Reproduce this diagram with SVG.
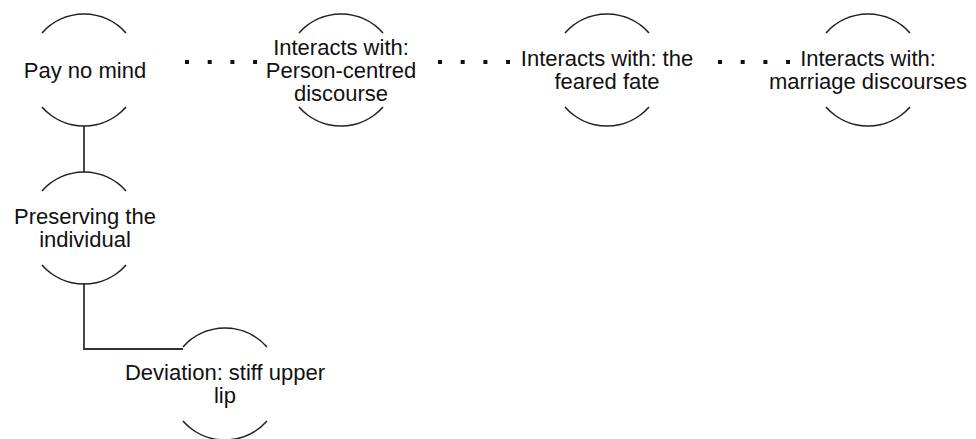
<svg xmlns="http://www.w3.org/2000/svg" width="976" height="439" viewBox="0 0 976 439">
<style>
.arc{fill:none;stroke:#222;stroke-width:1.6}
.lbl{font-family:"Liberation Sans",Arial,sans-serif;font-size:22px;fill:#111;text-anchor:middle}
.solid{fill:none;stroke:#333;stroke-width:1.8}
.dots{fill:none;stroke:#111;stroke-width:4;stroke-dasharray:4 18.7}
</style>
<rect width="976" height="439" fill="#fff"/>
<g id="connectors">
<line class="solid" x1="84" y1="126" x2="84" y2="172"/>
<polyline class="solid" points="84,283 84,349 183,349"/>
<line class="dots" x1="185" y1="62" x2="257" y2="62"/>
<line class="dots" x1="438" y1="62" x2="510" y2="62"/>
<line class="dots" x1="718" y1="62" x2="790" y2="62"/>
</g>
<g id="n1">
<path class="arc" d="M42,33 A56,56 0 0 1 126,33"/>
<path class="arc" d="M42,107 A56,56 0 0 0 126,107"/>
<text class="lbl" x="85" y="78">Pay no mind</text>
</g>
<g id="n2">
<path class="arc" d="M42,191 A56,56 0 0 1 126,191"/>
<path class="arc" d="M42,265 A56,56 0 0 0 126,265"/>
<text class="lbl" x="85" y="224">Preserving the</text>
<text class="lbl" x="85" y="247">individual</text>
</g>
<g id="n3">
<path class="arc" d="M183,347 A56,56 0 0 1 267,347"/>
<path class="arc" d="M183,421 A56,56 0 0 0 267,421"/>
<text class="lbl" x="225" y="380">Deviation: stiff upper</text>
<text class="lbl" x="225" y="403">lip</text>
</g>
<g id="n4">
<path class="arc" d="M299,33 A56,56 0 0 1 383,33"/>
<path class="arc" d="M299,107 A56,56 0 0 0 383,107"/>
<text class="lbl" x="341" y="55">Interacts with:</text>
<text class="lbl" x="341" y="78">Person-centred</text>
<text class="lbl" x="341" y="101">discourse</text>
</g>
<g id="n5">
<path class="arc" d="M565,33 A56,56 0 0 1 649,33"/>
<path class="arc" d="M565,107 A56,56 0 0 0 649,107"/>
<text class="lbl" x="607" y="66">Interacts with: the</text>
<text class="lbl" x="607" y="89">feared fate</text>
</g>
<g id="n6">
<path class="arc" d="M826,33 A56,56 0 0 1 910,33"/>
<path class="arc" d="M826,107 A56,56 0 0 0 910,107"/>
<text class="lbl" x="868" y="66">Interacts with:</text>
<text class="lbl" x="868" y="89">marriage discourses</text>
</g>
</svg>
